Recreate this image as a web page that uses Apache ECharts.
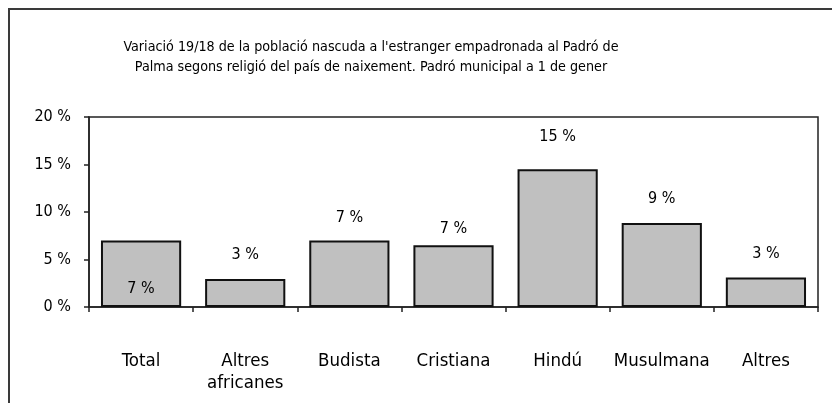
<!DOCTYPE html>
<html>
<head>
<meta charset="utf-8">
<script src="https://cdn.jsdelivr.net/npm/echarts@6/dist/echarts.min.js"></script>
<style>
    html, body { margin: 0; padding: 0; background: #fff; }
    #chart { width: 832px; height: 403px; }
</style>
</head>
<body>
<div id="chart"></div>
<script>
    // dades
    var categories = ['Total', 'Altres\nafricanes', 'Budista', 'Cristiana', 'Hindú', 'Musulmana', 'Altres'];
    var variacio = [7.0, 2.95, 7.0, 6.5, 14.5, 8.85, 3.1];
    var yTicks = [0, 5, 10, 15, 20];

    var titleText = 'Variació 19/18 de la població nascuda a l\'estranger empadronada al Padró de\n' +
        'Palma segons religió del país de naixement. Padró municipal a 1 de gener';

    var font = 'DejaVu Sans Condensed';
    // distancia de l'etiqueta respecte de la barra (la primera va dins)
    var labelLift = [10, 16, 15, 8, 24, 16, 16];

    var myChart = echarts.init(document.getElementById('chart'));

    var barData = variacio.map(function (v, i) {
        return {
            value: v,
            label: {
                position: i === 0 ? 'insideBottom' : 'top',
                distance: labelLift[i]
            }
        };
    });

    var option = {
        animation: false,
        backgroundColor: '#fff',
        title: {
            text: titleText,
            left: 366,
            top: 32,
            textAlign: 'center',
            textStyle: {
                fontFamily: font,
                fontSize: 14.2,
                fontWeight: 'normal',
                color: '#000',
                lineHeight: 20
            }
        },
        graphic: [{
            type: 'rect',
            shape: {x: 9, y: 9, width: 900, height: 500},
            style: {fill: 'none', stroke: '#3a3a3a', lineWidth: 2},
            silent: true
        }],
        grid: {
            left: 89,
            right: 14,
            top: 117,
            bottom: 96,
            show: true,
            borderColor: '#222',
            borderWidth: 1.5
        },
        xAxis: {
            type: 'category',
            data: categories,
            axisLine: {lineStyle: {color: '#222', width: 1.5}},
            axisTick: {show: true, length: 5, lineStyle: {color: '#222', width: 1.5}},
            axisLabel: {
                interval: 0,
                margin: 43,
                fontFamily: font,
                fontSize: 18.5,
                color: '#000',
                lineHeight: 22
            }
        },
        yAxis: {
            type: 'value',
            min: yTicks[0],
            max: yTicks[yTicks.length - 1],
            interval: yTicks[1] - yTicks[0],
            axisLine: {show: true, lineStyle: {color: '#222', width: 1.5}},
            axisTick: {show: true, length: 5, lineStyle: {color: '#222', width: 1.5}},
            splitLine: {show: false},
            axisLabel: {
                margin: 18,
                fontFamily: font,
                fontSize: 16,
                color: '#000',
                formatter: '{value} %'
            }
        },
        series: [{
            type: 'bar',
            data: barData,
            barCategoryGap: '23%',
            itemStyle: {
                color: '#c0c0c0',
                borderColor: '#111',
                borderWidth: 2
            },
            label: {
                show: true,
                fontFamily: font,
                fontSize: 16,
                color: '#000',
                formatter: function (p) {
                    return Math.round(p.value) + ' %';
                }
            }
        }]
    };

    myChart.setOption(option);
</script>
</body>
</html>
